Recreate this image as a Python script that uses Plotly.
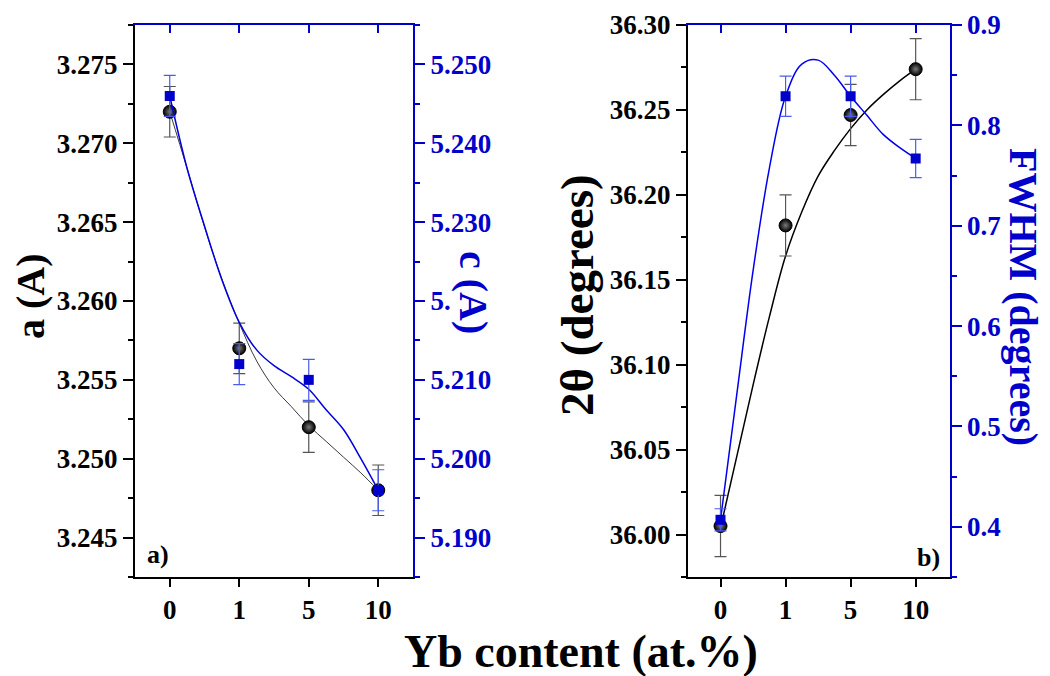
import plotly.graph_objects as go

# ---------------- data ----------------
categories = ["0", "1", "5", "10"]          # Yb content (at.%)

a_vals = [3.272, 3.257, 3.252, 3.248]       # lattice a (A)
a_err = [0.0016, 0.0016, 0.0016, 0.0016]
c_vals = [5.246, 5.212, 5.210, 5.196]       # lattice c (A)
c_err = [0.0026, 0.0026, 0.0026, 0.0026]

theta_vals = [36.005, 36.182, 36.247, 36.274]   # 2theta (degrees)
theta_err = [0.018, 0.018, 0.018, 0.018]
fwhm_vals = [0.407, 0.829, 0.829, 0.767]        # FWHM (degrees)
fwhm_err = [0.011, 0.020, 0.020, 0.019]

# smooth guide curves (category index position -> value)
fit_pos = [0, 0.25, 0.5, 0.75, 1, 1.25, 1.5, 1.75, 2, 2.25, 2.5, 2.75, 3]
a_fit = [3.2720, 3.2684, 3.2647, 3.2614, 3.2586, 3.2562, 3.2545, 3.2533, 3.2521,
         3.2511, 3.2501, 3.2491, 3.2480]
c_fit = [5.2460, 5.2368, 5.2295, 5.2227, 5.2173, 5.2138, 5.2118, 5.2104, 5.2088,
         5.2062, 5.2037, 5.2000, 5.1960]
theta_fit = [36.004, 36.046, 36.088, 36.128, 36.164, 36.190, 36.211, 36.226, 36.239,
             36.250, 36.259, 36.267, 36.274]
fwhm_fit = [0.407, 0.532, 0.655, 0.757, 0.829, 0.861, 0.865, 0.850, 0.829,
            0.810, 0.791, 0.778, 0.767]

# ---------------- styling ----------------
W, H = 1050, 676
BLUE = "#0000CC"
EBLUE = "#4a5cf0"
FONT = "Liberation Serif"
xpos = list(range(len(categories)))


def px(x):
    return x / W


def py(y):
    return 1 - y / H


XL = [px(135), px(413)]
XR = [px(688), px(949.5)]
YD = [py(577), py(25)]

fig = go.Figure()

sphere = dict(symbol="circle", size=13, color="#000000",
              gradient=dict(type="radial", color="#7a7a7a"),
              line=dict(color="#000000", width=1))

# left panel curves
fig.add_trace(go.Scatter(x=fit_pos, y=a_fit, mode="lines", line=dict(color="#3a3a3a", width=1, shape="spline"),
                         xaxis="x", yaxis="y", hoverinfo="skip", showlegend=False))
fig.add_trace(go.Scatter(x=fit_pos, y=c_fit, mode="lines", line=dict(color="#0000DD", width=1.5, shape="spline"),
                         xaxis="x", yaxis="y2", hoverinfo="skip", showlegend=False))
# left panel points
fig.add_trace(go.Scatter(x=xpos, y=a_vals, mode="markers",
                         error_y=dict(type="data", array=a_err, color="#555555", thickness=1.2, width=6),
                         marker=sphere, xaxis="x", yaxis="y", showlegend=False))
fig.add_trace(go.Scatter(x=xpos, y=c_vals, mode="markers",
                         error_y=dict(type="data", array=c_err, color=EBLUE, thickness=1.2, width=6),
                         marker=dict(symbol="square", size=10, color=BLUE),
                         xaxis="x", yaxis="y2", showlegend=False))

# right panel curves
fig.add_trace(go.Scatter(x=fit_pos, y=theta_fit, mode="lines", line=dict(color="#000000", width=1.5, shape="spline"),
                         xaxis="x2", yaxis="y3", hoverinfo="skip", showlegend=False))
fig.add_trace(go.Scatter(x=fit_pos, y=fwhm_fit, mode="lines", line=dict(color="#0000EE", width=1.5, shape="spline"),
                         xaxis="x2", yaxis="y4", hoverinfo="skip", showlegend=False))
fig.add_trace(go.Scatter(x=xpos, y=theta_vals, mode="markers",
                         error_y=dict(type="data", array=theta_err, color="#555555", thickness=1.2, width=6),
                         marker=sphere, xaxis="x2", yaxis="y3", showlegend=False))
fig.add_trace(go.Scatter(x=xpos, y=fwhm_vals, mode="markers",
                         error_y=dict(type="data", array=fwhm_err, color=EBLUE, thickness=1.2, width=6),
                         marker=dict(symbol="square", size=10, color=BLUE),
                         xaxis="x2", yaxis="y4", showlegend=False))

# invisible traces to materialise the top (blue) axes
fig.add_trace(go.Scatter(x=[None], y=[None], xaxis="x3", yaxis="y", showlegend=False, hoverinfo="skip"))
fig.add_trace(go.Scatter(x=[None], y=[None], xaxis="x4", yaxis="y3", showlegend=False, hoverinfo="skip"))

tickfont_k = dict(family=FONT, size=27, color="black", weight="bold")
tickfont_b = dict(family=FONT, size=27, color=BLUE, weight="bold")

common_x = dict(tickmode="array", tickvals=xpos, ticktext=categories, showgrid=False, zeroline=False,
                showline=True, linewidth=2, ticks="outside", ticklen=8, tickwidth=2, automargin=False)

fig.update_layout(
    width=W, height=H, margin=dict(l=0, r=0, t=0, b=0, pad=0, autoexpand=False),
    paper_bgcolor="white", plot_bgcolor="white", showlegend=False,
    xaxis=dict(common_x, domain=XL, anchor="y", range=[-0.5, 3.5], linecolor="black",
               tickcolor="black", tickfont=tickfont_k),
    xaxis3=dict(domain=XL, anchor="y", overlaying="x", side="top", range=[-0.5, 3.5],
                tickmode="array", tickvals=xpos, showticklabels=False, showgrid=False, zeroline=False,
                showline=True, linewidth=2, linecolor=BLUE, ticks="inside", ticklen=8, tickwidth=2,
                tickcolor=BLUE, automargin=False),
    yaxis=dict(domain=YD, anchor="x", range=[3.2425, 3.2775], dtick=0.005, tick0=0, tickformat=".3f",
               showgrid=False, zeroline=False, showline=True, linewidth=2, linecolor="black",
               ticks="outside", ticklen=10, tickwidth=2, tickcolor="black", tickfont=tickfont_k,
               automargin=False,
               minor=dict(dtick=0.0025, ticks="outside", ticklen=5, tickwidth=2, tickcolor="black")),
    yaxis2=dict(anchor="x", overlaying="y", side="right", range=[5.185, 5.255], dtick=0.01, tick0=0,
                tickformat=".3f", showgrid=False, zeroline=False, showline=True, linewidth=2,
                linecolor=BLUE, ticks="outside", ticklen=10, tickwidth=2, tickcolor=BLUE,
                tickfont=tickfont_b, automargin=False,
                minor=dict(dtick=0.005, ticks="outside", ticklen=5, tickwidth=2, tickcolor=BLUE)),
    xaxis2=dict(common_x, domain=XR, anchor="y3", range=[-0.5, 3.52], linecolor="black",
                tickcolor="black", tickfont=tickfont_k),
    xaxis4=dict(domain=XR, anchor="y3", overlaying="x2", side="top", range=[-0.5, 3.52],
                tickmode="array", tickvals=xpos, showticklabels=False, showgrid=False, zeroline=False,
                showline=True, linewidth=2, linecolor=BLUE, ticks="inside", ticklen=8, tickwidth=2,
                tickcolor=BLUE, automargin=False),
    yaxis3=dict(domain=YD, anchor="x2", range=[35.975, 36.30], dtick=0.05, tick0=0, tickformat=".2f",
                showgrid=False, zeroline=False, showline=True, linewidth=2, linecolor="black",
                ticks="outside", ticklen=10, tickwidth=2, tickcolor="black", tickfont=tickfont_k,
                automargin=False,
                minor=dict(dtick=0.025, ticks="outside", ticklen=5, tickwidth=2, tickcolor="black")),
    yaxis4=dict(anchor="x2", overlaying="y3", side="right", range=[0.35, 0.9], dtick=0.1, tick0=0,
                tickformat=".1f", showgrid=False, zeroline=False, showline=True, linewidth=2,
                linecolor=BLUE, ticks="outside", ticklen=10, tickwidth=2, tickcolor=BLUE,
                tickfont=tickfont_b, automargin=False,
                minor=dict(dtick=0.05, ticks="outside", ticklen=5, tickwidth=2, tickcolor=BLUE)),
)

title_k = dict(family=FONT, size=40, color="black", weight="bold")
title_b = dict(family=FONT, size=40, color=BLUE, weight="bold")
ann = [
    dict(text="a (A)", x=px(30), y=py(296), textangle=-90, font=title_k),
    dict(text="c (A)", x=px(474), y=py(293), textangle=90, font=title_b, bgcolor="white", borderpad=0),
    dict(text="2\u03b8 (degrees)", x=px(577), y=py(295), textangle=-90,
         font=dict(family=FONT, size=47, color="black", weight="bold")),
    dict(text="FWHM (degrees)", x=px(1024), y=py(297), textangle=90, font=title_b),
    dict(text="Yb content (at.%)", x=px(581), y=py(651), font=dict(family=FONT, size=46, color="black", weight="bold")),
    dict(text="a)", x=px(158), y=py(554), font=dict(family=FONT, size=26, color="black", weight="bold")),
    dict(text="b)", x=px(928), y=py(557), font=dict(family=FONT, size=26, color="black", weight="bold")),
]
for a in ann:
    fig.add_annotation(xref="paper", yref="paper", showarrow=False, xanchor="center", yanchor="middle", **a)

fig.write_html("out.html")
